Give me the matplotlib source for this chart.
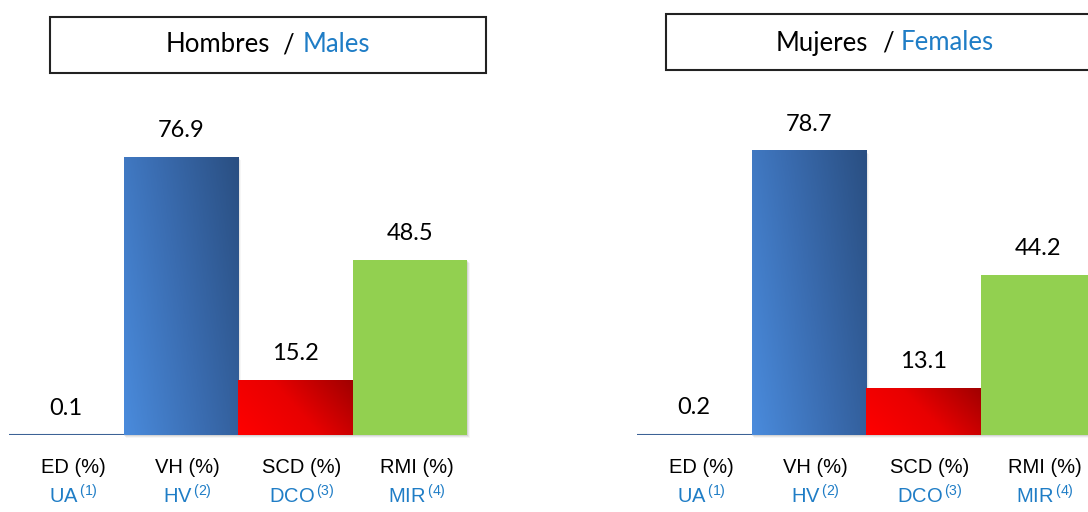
import matplotlib
matplotlib.use("Agg")
import matplotlib.pyplot as plt
import numpy as np
from matplotlib.colors import LinearSegmentedColormap
from matplotlib.patches import Rectangle

# datos
categorias = ["ED (%)", "VH (%)", "SCD (%)", "RMI (%)"]
categorias_en = ["UA", "HV", "DCO", "MIR"]
notas = ["(1)", "(2)", "(3)", "(4)"]
hombres = [0.1, 76.9, 15.2, 48.5]
mujeres = [0.2, 78.7, 13.1, 44.2]

arial = "Liberation Sans"
calibri = "Lato"

plt.rcParams["mathtext.fontset"] = "custom"
plt.rcParams["mathtext.rm"] = arial

AZUL_TXT = "#1f7dc6"
W, H = 1088, 512
fig = plt.figure(figsize=(W / 100, H / 100), dpi=100)

azul = LinearSegmentedColormap.from_list("azul", ["#4a8bdc", "#3a6cb0", "#2a4f82"])
rojo = LinearSegmentedColormap.from_list("rojo", ["#ff0000", "#e80000", "#a00000"])


def barra_degradado(ax, x0, h, cmap):
    r = Rectangle((x0, 0), 1, h, facecolor="none", edgecolor="none")
    ax.add_patch(r)
    gx, gy = np.meshgrid(np.linspace(0, 1, 80), np.linspace(0, 1, 80))
    g = gx * 0.7 + gy * 0.3
    im = ax.imshow(g, cmap=cmap, extent=(x0, x0 + 1, 0, h), origin="lower",
                   aspect="auto", zorder=3)
    im.set_clip_path(r)


def panel(left_px, valores):
    ax = fig.add_axes([left_px / W, 77 / H, 458 / W, 361.5 / H])
    ax.set_xlim(-0.5, 3.5)
    ax.set_ylim(0, 100)
    x = np.arange(len(valores))
    # sombra suave
    for xi, v in zip(x, valores):
        if v > 1:
            for k, a in enumerate([0.18, 0.12, 0.07]):
                d = 0.008 * (k + 1)
                ax.add_patch(Rectangle((xi - 0.5 + d, -0.3 * (k + 1)), 1, v, facecolor="#808080",
                                       alpha=a, edgecolor="none", zorder=1, clip_on=False))
    ax.bar(x, valores, width=1.0, color=["none", "none", "none", "#92d050"], zorder=2)
    barra_degradado(ax, x[1] - 0.5, valores[1], azul)
    barra_degradado(ax, x[2] - 0.5, valores[2], rojo)
    for xi, v in zip(x, valores):
        ax.annotate(f"{v:.1f}", (xi, v), xytext=(0, 19), textcoords="offset points",
                    ha="center", va="center", fontsize=17, family=calibri, zorder=5)
    ax.axhline(0, color="#3d6296", lw=1.5, zorder=1.5)
    for s in ax.spines.values():
        s.set_visible(False)
    ax.set_yticks([])
    ax.set_xticks([])
    for xi, c, ce, n in zip(x, categorias, categorias_en, notas):
        ax.text(xi + 0.06, -9, c, ha="center", va="center", fontsize=14.5, family=arial)
        ax.text(xi + 0.06, -16.8, ce + r"$^{\,\mathrm{" + n + "}}$", ha="center", va="center",
                fontsize=14.5, family=arial, color=AZUL_TXT)
    return ax


panel(9, hombres)
panel(637, mujeres)


def caja(x0, y0, x1, y1, t1, t2, xr, xs, xl, yc):
    fig.patches.append(Rectangle((x0 / W, 1 - y1 / H), (x1 - x0) / W, (y1 - y0) / H,
                                 transform=fig.transFigure, facecolor="white",
                                 edgecolor="#222222", lw=1.5))
    fig.text(xr / W, 1 - yc / H, t1, ha="right", va="center", fontsize=18.5, family=calibri)
    fig.text(xs / W, 1 - yc / H, "/", ha="center", va="center", fontsize=18.5, family=calibri)
    fig.text(xl / W, 1 - yc / H, t2, ha="left", va="center", fontsize=18.5, family=calibri,
             color=AZUL_TXT)


caja(50, 17, 486, 73, "Hombres", "Males", 270, 288, 303, 45)
caja(666, 14, 1100, 70, "Mujeres", "Females", 868, 888, 901, 43)

fig.savefig("out.png", dpi=100)
